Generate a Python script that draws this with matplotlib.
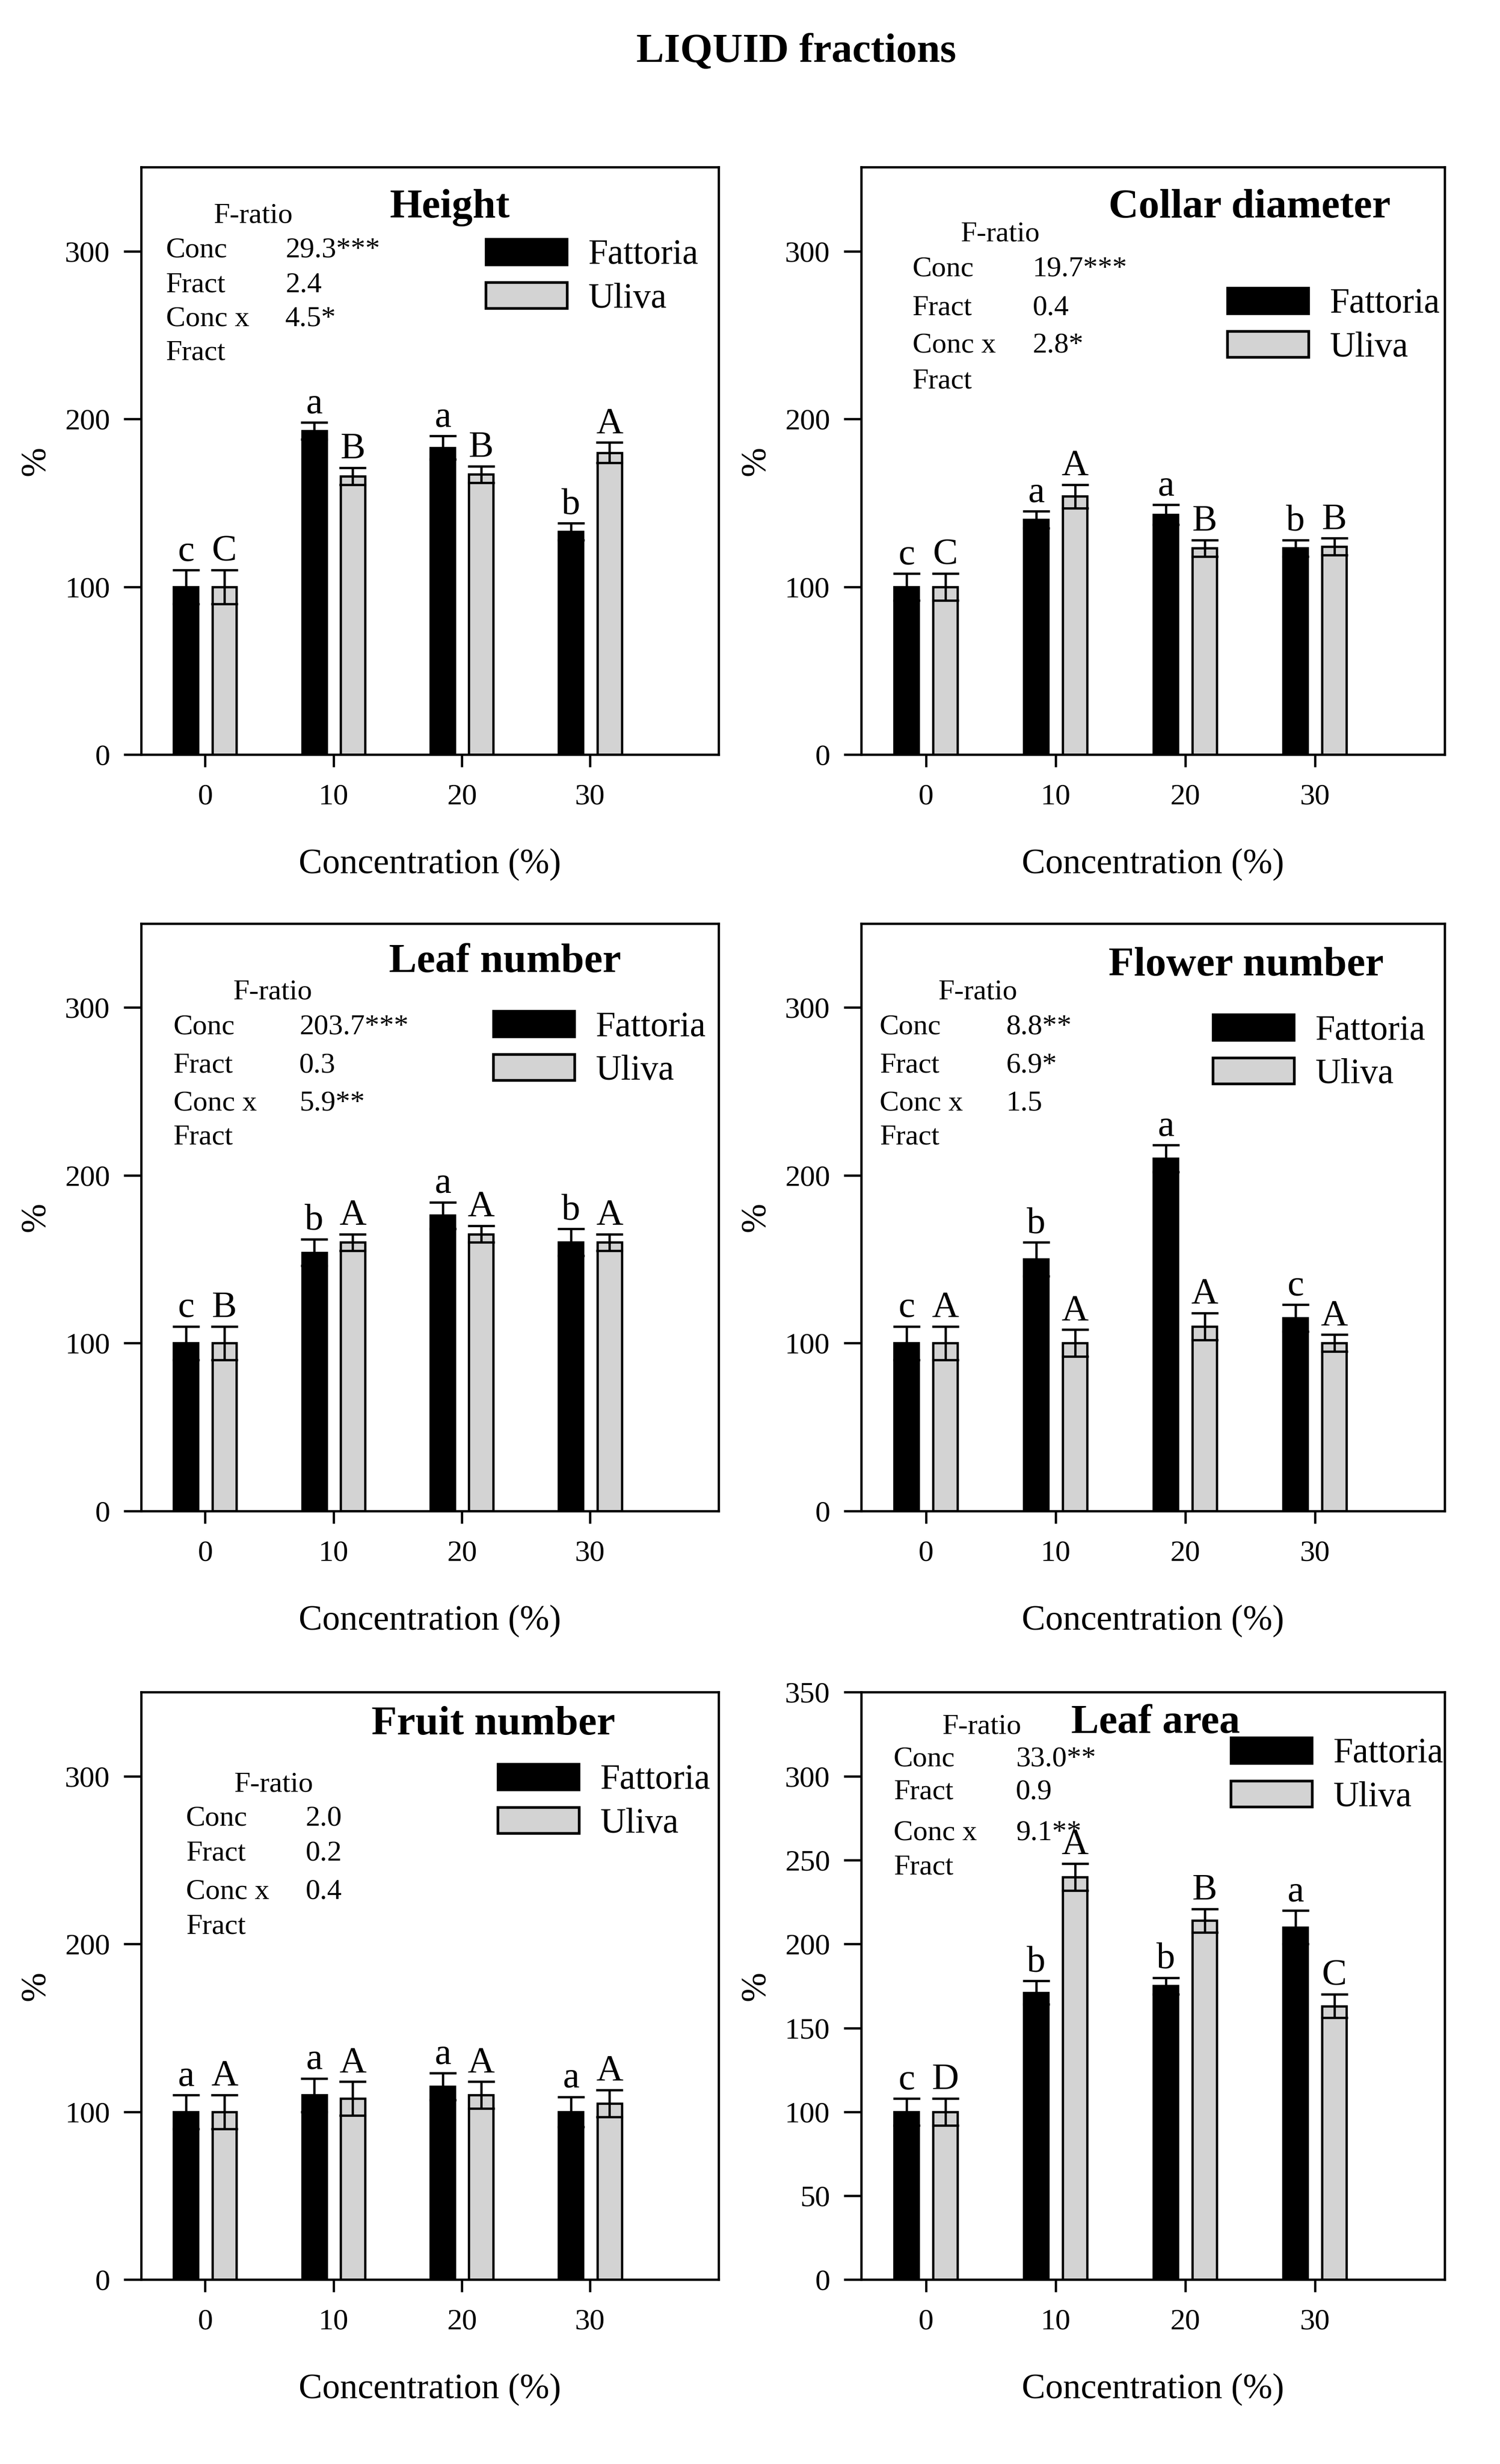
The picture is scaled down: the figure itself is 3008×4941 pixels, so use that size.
import matplotlib
matplotlib.use('Agg')
import matplotlib.pyplot as plt
import numpy as np
from matplotlib.patches import Patch

plt.rcParams['font.family'] = ['Liberation Serif', 'DejaVu Serif']

conc_labels = ['0', '10', '20', '30']
series_names = ['Fattoria', 'Uliva']
stat_names = ['Conc', 'Fract', 'Conc x\nFract']

# Height
height_fattoria = [100, 193, 183, 133]
height_fattoria_err = [10, 5, 7, 5]
height_uliva = [100, 166, 167, 180]
height_uliva_err = [10, 5, 5, 6]
height_letters_f = ['c', 'a', 'a', 'b']
height_letters_u = ['C', 'B', 'B', 'A']
height_stats = ['29.3***', '2.4', '4.5*']

# Collar diameter
collar_fattoria = [100, 140, 143, 123]
collar_fattoria_err = [8, 5, 6, 5]
collar_uliva = [100, 154, 123, 124]
collar_uliva_err = [8, 7, 5, 5]
collar_letters_f = ['c', 'a', 'a', 'b']
collar_letters_u = ['C', 'A', 'B', 'B']
collar_stats = ['19.7***', '0.4', '2.8*']

# Leaf number
leafnum_fattoria = [100, 154, 176, 160]
leafnum_fattoria_err = [10, 8, 8, 8]
leafnum_uliva = [100, 160, 165, 160]
leafnum_uliva_err = [10, 5, 5, 5]
leafnum_letters_f = ['c', 'b', 'a', 'b']
leafnum_letters_u = ['B', 'A', 'A', 'A']
leafnum_stats = ['203.7***', '0.3', '5.9**']

# Flower number
flower_fattoria = [100, 150, 210, 115]
flower_fattoria_err = [10, 10, 8, 8]
flower_uliva = [100, 100, 110, 100]
flower_uliva_err = [10, 8, 8, 5]
flower_letters_f = ['c', 'b', 'a', 'c']
flower_letters_u = ['A', 'A', 'A', 'A']
flower_stats = ['8.8**', '6.9*', '1.5']

# Fruit number
fruit_fattoria = [100, 110, 115, 100]
fruit_fattoria_err = [10, 10, 8, 9]
fruit_uliva = [100, 108, 110, 105]
fruit_uliva_err = [10, 10, 8, 8]
fruit_letters_f = ['a', 'a', 'a', 'a']
fruit_letters_u = ['A', 'A', 'A', 'A']
fruit_stats = ['2.0', '0.2', '0.4']

# Leaf area
area_fattoria = [100, 171, 175, 210]
area_fattoria_err = [8, 7, 5, 10]
area_uliva = [100, 240, 214, 163]
area_uliva_err = [8, 8, 7, 7]
area_letters_f = ['c', 'b', 'b', 'a']
area_letters_u = ['D', 'A', 'B', 'C']
area_stats = ['33.0**', '0.9', '9.1**']

panels = [
    ('Height', height_fattoria, height_fattoria_err, height_uliva, height_uliva_err,
     height_letters_f, height_letters_u, height_stats, [0, 100, 200, 300]),
    ('Collar diameter', collar_fattoria, collar_fattoria_err, collar_uliva, collar_uliva_err,
     collar_letters_f, collar_letters_u, collar_stats, [0, 100, 200, 300]),
    ('Leaf number', leafnum_fattoria, leafnum_fattoria_err, leafnum_uliva, leafnum_uliva_err,
     leafnum_letters_f, leafnum_letters_u, leafnum_stats, [0, 100, 200, 300]),
    ('Flower number', flower_fattoria, flower_fattoria_err, flower_uliva, flower_uliva_err,
     flower_letters_f, flower_letters_u, flower_stats, [0, 100, 200, 300]),
    ('Fruit number', fruit_fattoria, fruit_fattoria_err, fruit_uliva, fruit_uliva_err,
     fruit_letters_f, fruit_letters_u, fruit_stats, [0, 100, 200, 300]),
    ('Leaf area', area_fattoria, area_fattoria_err, area_uliva, area_uliva_err,
     area_letters_f, area_letters_u, area_stats, [0, 50, 100, 150, 200, 250, 300, 350]),
]

# layout: axes rect, title pos, legend anchor, F-ratio pos, label x, value x, row ys
col_l = [0.094, 0.385]
col_r = [0.574, 0.389]
rows_b = [0.6937, 0.3868, 0.0748]
ax_h = 0.2384
layout = [
    (col_l, rows_b[0], (0.535, 0.915), (0.597, 0.878), (0.126, 0.918), 0.043, 0.25, [0.859, 0.80, 0.742, 0.684]),
    (col_r, rows_b[0], (0.666, 0.915), (0.628, 0.795), (0.171, 0.886), 0.088, 0.294, [0.827, 0.761, 0.697, 0.636]),
    (col_l, rows_b[1], (0.63, 0.918), (0.61, 0.851), (0.159, 0.883), 0.056, 0.274, [0.824, 0.758, 0.694, 0.636]),
    (col_r, rows_b[1], (0.66, 0.912), (0.603, 0.845), (0.132, 0.883), 0.032, 0.249, [0.824, 0.758, 0.694, 0.636]),
    (col_l, rows_b[2], (0.61, 0.928), (0.618, 0.878), (0.161, 0.843), 0.078, 0.285, [0.785, 0.726, 0.66, 0.601]),
    (col_r, rows_b[2], (0.505, 0.931), (0.634, 0.923), (0.139, 0.941), 0.056, 0.265, [0.886, 0.83, 0.761, 0.702]),
]

grey = '#d3d3d3'
lw = 1.1
x = np.arange(len(conc_labels))
offset = 0.15
width = 0.19

fig = plt.figure(figsize=(3008/300, 4941/300), dpi=300)
fig.text(0.531, 0.975, 'LIQUID fractions', ha='center', va='baseline',
         fontsize=20, fontweight='bold')

for (name, f_val, f_err, u_val, u_err, let_f, let_u, stats, yticks), \
        (col, bottom, tpos, lpos, frpos, lab_x, val_x, row_ys) in zip(panels, layout):
    ax = fig.add_axes([col[0], bottom, col[1], ax_h])
    ax.bar(x - offset, f_val, width, color='black', edgecolor='black', linewidth=lw, zorder=2)
    ax.bar(x + offset, u_val, width, color=grey, edgecolor='black', linewidth=lw, zorder=2)
    ax.errorbar(x - offset, f_val, yerr=f_err, fmt='none', ecolor='black',
                elinewidth=lw, capsize=6.5, capthick=lw, zorder=3)
    ax.errorbar(x + offset, u_val, yerr=u_err, fmt='none', ecolor='black',
                elinewidth=lw, capsize=6.5, capthick=lw, zorder=3)
    for i in range(len(x)):
        ax.annotate(let_f[i], (x[i] - offset, f_val[i] + f_err[i]), xytext=(0, 4.5),
                    textcoords='offset points', ha='center', va='baseline', fontsize=18)
        ax.annotate(let_u[i], (x[i] + offset, u_val[i] + u_err[i]), xytext=(0, 4.5),
                    textcoords='offset points', ha='center', va='baseline', fontsize=18)

    ax.set_xlim(-0.5, 4.0)
    ax.set_ylim(0, 350)
    ax.set_xticks(x)
    ax.set_xticklabels(conc_labels)
    ax.set_yticks(yticks)
    ax.tick_params(axis='y', direction='out', length=8.4, width=lw, pad=6.5, labelsize=14.5)
    ax.tick_params(axis='x', direction='out', length=6, width=lw, pad=8, labelsize=14.5)
    for sp in ax.spines.values():
        sp.set_linewidth(lw)
    ax.set_xlabel('Concentration (%)', fontsize=17, labelpad=18)
    ax.set_ylabel('%', fontsize=17, labelpad=6)

    ax.text(tpos[0], tpos[1], name, transform=ax.transAxes, ha='center', va='baseline',
            fontsize=20, fontweight='bold')

    handles = [Patch(facecolor='black', edgecolor='black', linewidth=lw),
               Patch(facecolor=grey, edgecolor='black', linewidth=1.3)]
    ax.legend(handles, series_names, loc='upper left', bbox_to_anchor=lpos, frameon=False,
              borderpad=0, borderaxespad=0, handlelength=2.3, handleheight=0.75,
              handletextpad=0.6, labelspacing=0.3, fontsize=17)

    ax.text(frpos[0], frpos[1], 'F-ratio', transform=ax.transAxes, ha='left', va='center', fontsize=14)
    labels4 = ['Conc', 'Fract', 'Conc x', 'Fract']
    for k, lab in enumerate(labels4):
        ax.text(lab_x, row_ys[k], lab, transform=ax.transAxes, ha='left', va='center', fontsize=14)
    for k, val in enumerate(stats):
        ax.text(val_x, row_ys[k], val, transform=ax.transAxes, ha='left', va='center', fontsize=14)

fig.savefig('out.png', dpi=300)
